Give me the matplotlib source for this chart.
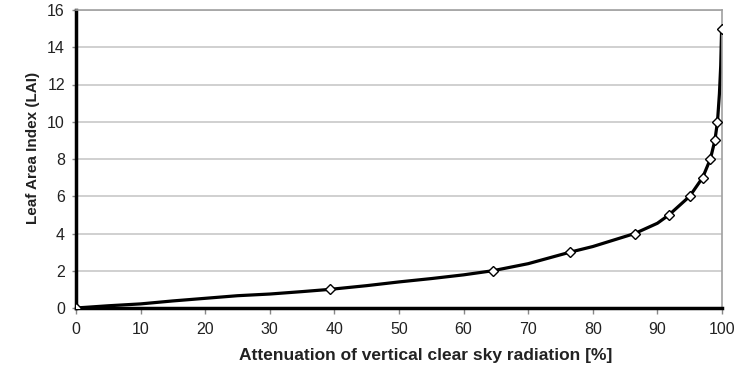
import matplotlib
matplotlib.use("Agg")
import matplotlib.pyplot as plt

# Curve
line_x = [0, 5, 10, 15, 20, 25, 30, 35, 39.3, 45, 50, 55, 60, 64.5, 70, 76.5, 80, 86.5, 90, 91.8, 95, 97, 98.2, 98.9, 99.3, 99.6, 99.8, 99.94]
line_y = [0, 0.12, 0.22, 0.38, 0.52, 0.66, 0.75, 0.88, 1.0, 1.2, 1.4, 1.58, 1.78, 2.0, 2.38, 3.0, 3.3, 4.0, 4.55, 5.0, 6.0, 7.0, 8.0, 9.0, 10.0, 11.5, 13.0, 15.0]

# Markers
mark_x = [0, 39.3, 64.5, 76.5, 86.5, 91.8, 95.0, 97.0, 98.2, 98.9, 99.3, 99.94]
mark_y = [0, 1, 2, 3, 4, 5, 6, 7, 8, 9, 10, 15]

x_ticks = [0, 10, 20, 30, 40, 50, 60, 70, 80, 90, 100]
y_ticks = [0, 2, 4, 6, 8, 10, 12, 14, 16]

plt.rcParams['font.family'] = ['Liberation Sans', 'DejaVu Sans']

fig = plt.figure(figsize=(7.53, 3.70), dpi=100)
ax = fig.add_axes([76/753, 62/370, (722-76)/753, (308-10)/370])

for y in y_ticks[1:]:
    ax.axhline(y, color='#c8c8c8', lw=1.2, zorder=0)

ax.plot(line_x, line_y, color='black', lw=2.3, zorder=2, solid_capstyle='round')
ax.plot(mark_x, mark_y, linestyle='none', marker='D', markersize=5,
        markerfacecolor='white', markeredgecolor='black', markeredgewidth=1.0, zorder=3)

ax.set_xlim(0, 100)
ax.set_ylim(0, 16)
ax.set_xticks(x_ticks)
ax.set_yticks(y_ticks)
ax.tick_params(axis='both', labelsize=11.5, labelcolor='#222222', width=1, color='#888888')
ax.tick_params(axis='y', length=3, pad=5)
ax.tick_params(axis='x', direction='out', length=4, pad=6)

for s in ['left', 'bottom']:
    ax.spines[s].set_linewidth(2.5)
    ax.spines[s].set_color('black')
for s in ['right', 'top']:
    ax.spines[s].set_linewidth(1.2)
    ax.spines[s].set_color('#a0a0a0')

ax.set_xlabel('Attenuation of vertical clear sky radiation [%]', fontsize=12.5, fontweight='bold', color='#222222')
ax.set_ylabel('Leaf Area Index (LAI)', fontsize=11, fontweight='bold', color='#222222')
ax.xaxis.set_label_coords(0.542, -0.135)
ax.yaxis.set_label_coords(-0.056, 0.537)

fig.savefig('out.png', dpi=100)
